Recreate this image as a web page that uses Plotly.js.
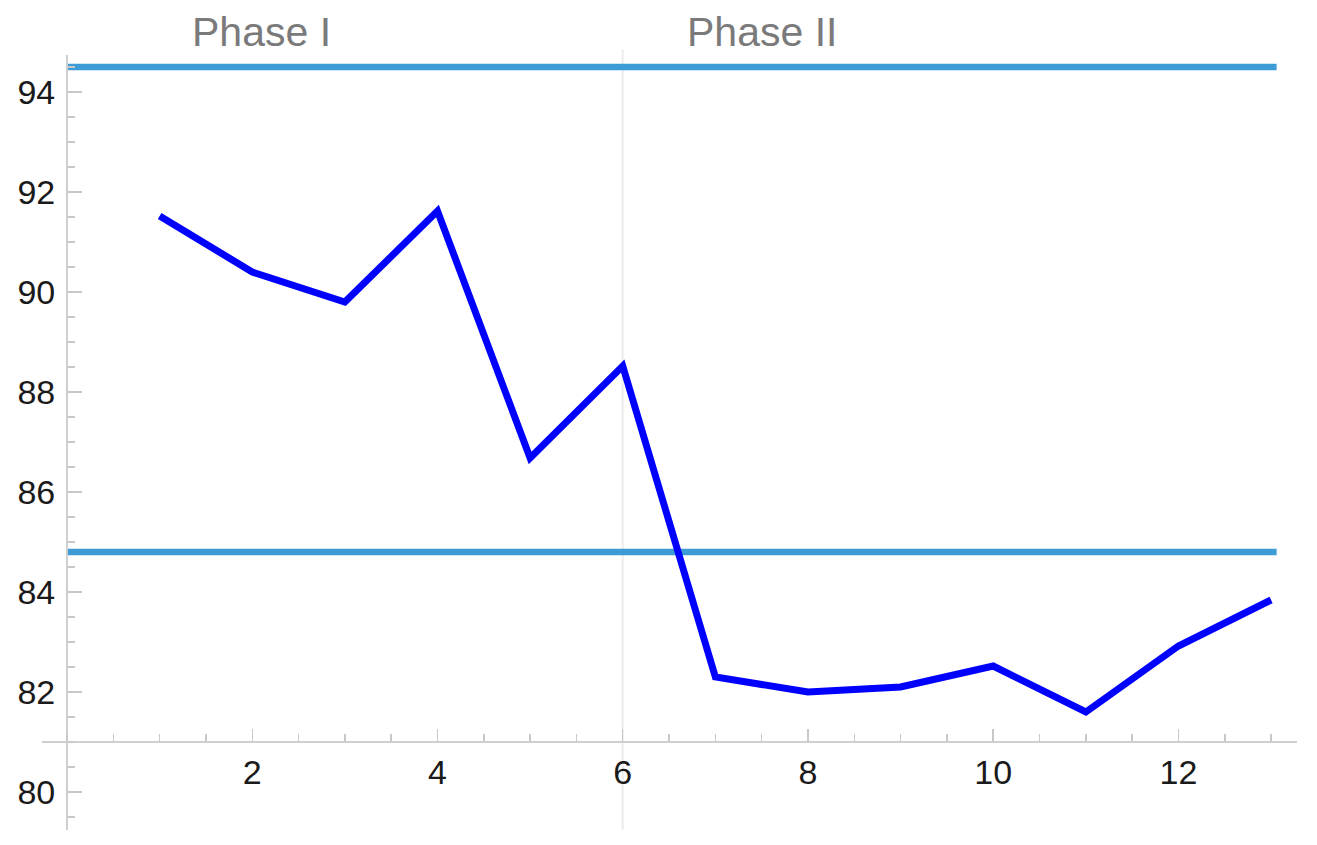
<!DOCTYPE html>
<html>
<head>
<meta charset="utf-8">
<script src="https://cdn.plot.ly/plotly-3.0.1.min.js"></script>
<style>
  html,body{margin:0;padding:0;background:#fff}
  #chart{width:1317px;height:845px}
</style>
</head>
<body>
<div id="chart"></div>
<script>
// data
var steps = [1,2,3,4,5,6,7,8,9,10,11,12,13]
var score = [91.52,90.4,89.8,91.62,86.68,88.52,82.3,82.0,82.1,82.52,81.6,82.92,83.84]

// the two reference levels and how far they run
var refLevels = [94.5, 84.8]
var refSpan = [0, 13.06]

// phase labels and the boundary between them
var phaseNames = ['Phase I', 'Phase II']
var phaseCentres = [2.1, 7.5]
var phaseBoundary = [6]

var xTicks = [2,4,6,8,10,12]
var yTicks = [80,82,84,86,88,90,92,94]

var xRange = [-0.27, 13.28]
var yRange = [79.24, 94.74]
var xCross = 81   // the x axis sits at this y value

var traces = refLevels.map(function(lv){
  return {
    x: refSpan,
    y: refSpan.map(function(){return lv}),
    mode: 'lines',
    type: 'scatter',
    line: {color: '#3d9bd6', width: 6.5},
    hoverinfo: 'skip'
  }
})
traces.push({
  x: steps,
  y: score,
  mode: 'lines',
  type: 'scatter',
  line: {color: '#0000ff', width: 7}
})

var tickFont = {family: 'Liberation Sans, Arial, sans-serif', size: 34, color: '#1a1a1a'}

var layout = {
  width: 1317,
  height: 845,
  margin: {l: 42, r: 20, t: 55, b: 15},
  showlegend: false,
  paper_bgcolor: '#fff',
  plot_bgcolor: '#fff',
  xaxis: {
    range: xRange,
    anchor: 'free',
    position: (xCross - yRange[0]) / (yRange[1] - yRange[0]),
    showgrid: false,
    zeroline: false,
    showline: true,
    linecolor: '#cfcfcf',
    linewidth: 2,
    tickvals: xTicks,
    ticks: 'inside',
    ticklen: 12,
    tickwidth: 1.5,
    tickcolor: '#c8c8c8',
    tickfont: tickFont,
    ticklabelstandoff: 0,
    minor: {dtick: 0.5, tick0: 0, ticks: 'inside', ticklen: 7, tickwidth: 1.5, tickcolor: '#c8c8c8', showgrid: false}
  },
  yaxis: {
    range: yRange,
    anchor: 'free',
    position: (0 - xRange[0]) / (xRange[1] - xRange[0]),
    showgrid: false,
    zeroline: false,
    showline: true,
    linecolor: '#cfcfcf',
    linewidth: 2,
    tickvals: yTicks,
    ticks: 'inside',
    ticklen: 14,
    tickwidth: 1.5,
    tickcolor: '#c8c8c8',
    tickfont: tickFont,
    ticklabelstandoff: 4,
    minor: {dtick: 0.5, tick0: 80, ticks: 'inside', ticklen: 7, tickwidth: 1.5, tickcolor: '#c8c8c8', showgrid: false}
  },
  shapes: phaseBoundary.map(function(b){
    return {
      type: 'line', xref: 'x', yref: 'paper',
      x0: b, x1: b, y0: 0, y1: 1.007,
      line: {color: '#ececec', width: 2},
      layer: 'below'
    }
  }),
  annotations: phaseNames.map(function(n, i){
    return {
      text: n,
      x: phaseCentres[i],
      xref: 'x',
      y: 1.0297,
      yref: 'paper',
      yanchor: 'middle',
      showarrow: false,
      font: {family: 'Liberation Sans, Arial, sans-serif', size: 41, color: '#7a7a7a'}
    }
  })
}

Plotly.newPlot('chart', traces, layout, {displayModeBar: false, staticPlot: true})
</script>
</body>
</html>
